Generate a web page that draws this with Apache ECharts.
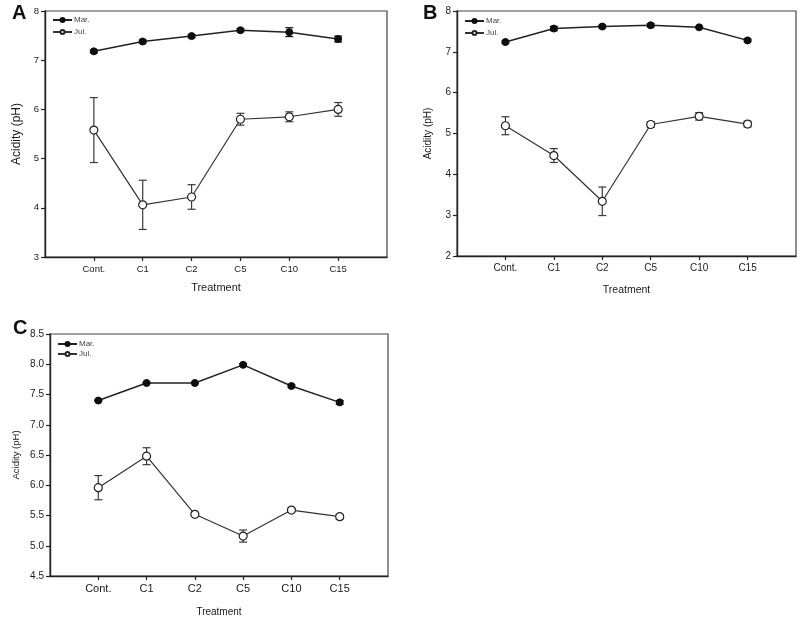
<!DOCTYPE html>
<html><head><meta charset="utf-8">
<script src="https://cdn.jsdelivr.net/npm/echarts@6/dist/echarts.min.js"></script>
<style>html,body{margin:0;padding:0;background:#fff}#c{width:800px;height:618px}</style>
</head><body><div id="c"></div>
<script>
const categories = ['Cont.', 'C1', 'C2', 'C5', 'C10', 'C15'];
// Panel A
const A_mar = [7.18, 7.38, 7.49, 7.61, 7.57, 7.43];
const A_marErr = [0.03, 0.03, 0.03, 0.03, 0.09, 0.06];
const A_jul = [5.58, 4.06, 4.22, 5.80, 5.85, 6.00];
const A_julErr = [0.66, 0.50, 0.25, 0.12, 0.10, 0.14];
// Panel B
const B_mar = [7.24, 7.57, 7.62, 7.65, 7.60, 7.28];
const B_marErr = [0.03, 0.05, 0.03, 0.04, 0.02, 0.03];
const B_jul = [5.19, 4.46, 3.34, 5.22, 5.42, 5.23];
const B_julErr = [0.22, 0.17, 0.35, 0.07, 0.09, 0.07];
// Panel C
const C_mar = [7.40, 7.69, 7.69, 7.99, 7.64, 7.37];
const C_marErr = [0.01, 0.01, 0.01, 0.02, 0.02, 0.03];
const C_jul = [5.96, 6.48, 5.52, 5.16, 5.59, 5.48];
const C_julErr = [0.20, 0.14, 0.03, 0.10, 0.03, 0.04];
const yTicksA = {min: 3, max: 8, interval: 1};
const yTicksB = {min: 2, max: 8, interval: 1};
const yTicksC = {min: 4.5, max: 8.5, interval: 0.5};

const FONT = 'Liberation Sans, Arial, sans-serif';
const TXT = '#1a1a1a';
const LINE = '#222';

const panels = [
  {mar: A_mar, marErr: A_marErr, jul: A_jul, julErr: A_julErr, y: yTicksA,
   grid: {left: 45, top: 11, width: 342, height: 246},
   tickFs: 9.5, xFs: 9.5, nameFs: 11, yNameFs: 12, dec: 0, xNameGap: 25, yNameGap: 22,
   legend: {left: 52, top: 16, itemGap: 4}},
  {mar: B_mar, marErr: B_marErr, jul: B_jul, julErr: B_julErr, y: yTicksB,
   grid: {left: 457, top: 11, width: 339, height: 245},
   tickFs: 10, xFs: 10, nameFs: 10.5, yNameFs: 10, dec: 0, xNameGap: 29, yNameGap: 24,
   legend: {left: 464, top: 17, itemGap: 4}},
  {mar: C_mar, marErr: C_marErr, jul: C_jul, julErr: C_julErr, y: yTicksC,
   grid: {left: 50, top: 334, width: 338, height: 243},
   tickFs: 10, xFs: 11, nameFs: 10, yNameFs: 9.5, dec: 1, xNameGap: 31, yNameGap: 29,
   legend: {left: 57, top: 340, itemGap: 2}}
];

const grids = [], xAxes = [], yAxes = [], series = [], legends = [];
function errRender(params, api) {
  const x = api.value(0), lo = api.value(1), hi = api.value(2);
  const pLo = api.coord([x, lo]), pHi = api.coord([x, hi]);
  const w = 4;
  const st = {stroke: api.visual('color'), lineWidth: 1.2};
  return {type: 'group', children: [
    {type: 'line', shape: {x1: pLo[0], y1: pLo[1], x2: pHi[0], y2: pHi[1]}, style: st},
    {type: 'line', shape: {x1: pLo[0]-w, y1: pLo[1], x2: pLo[0]+w, y2: pLo[1]}, style: st},
    {type: 'line', shape: {x1: pHi[0]-w, y1: pHi[1], x2: pHi[0]+w, y2: pHi[1]}, style: st}
  ]};
}
panels.forEach((p, i) => {
  grids.push(Object.assign({show: true, borderColor: '#444', borderWidth: 1.2, backgroundColor: 'transparent'}, p.grid));
  xAxes.push({type: 'value', gridIndex: i, min: 0, max: 7, interval: 1,
    name: 'Treatment', nameLocation: 'middle', nameGap: p.xNameGap,
    nameTextStyle: {fontFamily: FONT, fontSize: p.nameFs, color: TXT},
    splitLine: {show: false},
    axisLine: {lineStyle: {color: LINE, width: 1.4}},
    axisTick: {length: 4, lineStyle: {color: LINE, width: 1.2}, customValues: [1,2,3,4,5,6]},
    axisLabel: {fontFamily: FONT, fontSize: p.xFs, color: TXT, margin: 7,
      customValues: [1,2,3,4,5,6], formatter: v => categories[v-1] || ''}});
  yAxes.push({type: 'value', gridIndex: i, min: p.y.min, max: p.y.max, interval: p.y.interval,
    name: 'Acidity (pH)', nameLocation: 'middle', nameGap: p.yNameGap,
    nameTextStyle: {fontFamily: FONT, fontSize: p.yNameFs, color: TXT},
    splitLine: {show: false},
    axisLine: {show: true, lineStyle: {color: LINE, width: 1.4}},
    axisTick: {show: true, length: 4, lineStyle: {color: LINE, width: 1.2}},
    axisLabel: {fontFamily: FONT, fontSize: p.tickFs, color: TXT, margin: 6,
      formatter: v => v.toFixed(p.dec)}});
  const mk = arr => arr.map((v, k) => [k + 1, v]);
  const mkErr = (arr, e) => arr.map((v, k) => [k + 1, v - e[k], v + e[k]]);
  series.push({type: 'custom', xAxisIndex: i, yAxisIndex: i, renderItem: errRender,
    data: mkErr(p.jul, p.julErr), itemStyle: {color: '#3a3a3a'}, z: 1, silent: true});
  series.push({type: 'custom', xAxisIndex: i, yAxisIndex: i, renderItem: errRender,
    data: mkErr(p.mar, p.marErr), itemStyle: {color: '#111'}, z: 1, silent: true});
  series.push({name: 'Mar.', type: 'line', xAxisIndex: i, yAxisIndex: i, data: mk(p.mar),
    symbol: 'circle', symbolSize: 7, lineStyle: {color: '#222', width: 1.5},
    itemStyle: {color: '#0d0d0d', borderColor: '#0d0d0d', borderWidth: 1}, z: 3});
  series.push({name: 'Jul.', type: 'line', xAxisIndex: i, yAxisIndex: i, data: mk(p.jul),
    symbol: 'circle', symbolSize: 8, lineStyle: {color: '#333', width: 1.2},
    itemStyle: {color: '#fff', borderColor: '#222', borderWidth: 1.2}, z: 3});
  legends.push({orient: 'vertical', left: p.legend.left, top: p.legend.top,
    itemGap: p.legend.itemGap, itemWidth: 19, itemHeight: 5, padding: 0,
    data: ['Mar.', 'Jul.'], selectedMode: false,
    textStyle: {fontFamily: FONT, fontSize: 8, color: '#444', padding: [0, 0, 0, -3]}});
});

const chart = echarts.init(document.getElementById('c'), null, {renderer: 'canvas'});
chart.setOption({
  animation: false,
  backgroundColor: '#fff',
  grid: grids, xAxis: xAxes, yAxis: yAxes, series: series, legend: legends,
  graphic: [
    {type: 'text', left: 12, top: 3, style: {text: 'A', font: 'bold 20px ' + FONT, fill: '#111'}},
    {type: 'text', left: 423, top: 3, style: {text: 'B', font: 'bold 20px ' + FONT, fill: '#111'}},
    {type: 'text', left: 13, top: 318, style: {text: 'C', font: 'bold 20px ' + FONT, fill: '#111'}}
  ]
});
</script></body></html>
